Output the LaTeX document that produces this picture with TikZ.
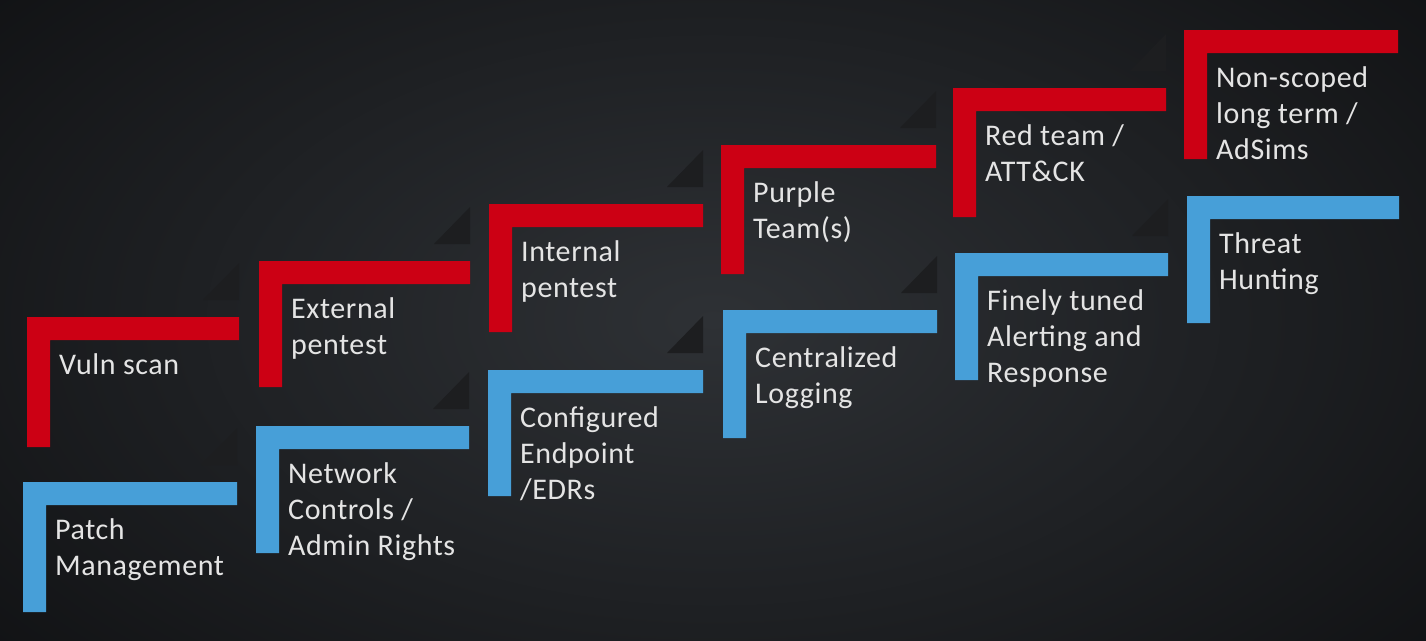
\documentclass[tikz,border=0pt]{standalone}
\usepackage{fontspec}
\setmainfont[LetterSpace=2]{Carlito}
\definecolor{stepred}{HTML}{CC0014}
\definecolor{stepblue}{HTML}{479FD8}
\definecolor{steptext}{HTML}{E4E4E4}
\definecolor{bgin}{HTML}{2E3135}
\definecolor{bgout}{HTML}{0F1012}
\definecolor{shadowc}{HTML}{1D1E20}
\tikzset{
  steplabel/.style={anchor=north west, inner sep=0pt, align=left, text=steptext,
    font=\fontsize{30}{36}\selectfont},
  stepshadow/.style={fill=shadowc},
}
% #1 name, #2 colour, #3 left, #4 top, #5 right, #6 bottom, #7 text
\newcommand\stairbox[7]{%
  \fill[#2] (#3,#4) -- (#5,#4) -- (#5,#4+23) -- (#3+23,#4+23) -- (#3+23,#6) -- (#3,#6) -- cycle;
  \node[steplabel] (#1) at (#3+32,#4+32) {\strut#7};
}
\newcommand\stairshadow[3]{% name, right, top
  \fill[stepshadow] (#2-36,#3-17) -- (#2,#3-17) -- (#2,#3-54) -- cycle;
  \coordinate (#1) at (#2,#3-17);
}
\begin{document}
\begin{tikzpicture}[x=1pt,y=-1pt]
\useasboundingbox (0,0) rectangle (1426,640);
\shade[inner color=bgin, outer color=bgout] (-300,-250) rectangle (1726,890);
\stairshadow{s1}{239}{317}
\stairshadow{s2}{470}{261}
\stairshadow{s3}{703}{204}
\stairshadow{s4}{936}{145}
\stairshadow{s5}{1166}{88}
\stairshadow{t1}{237}{482}
\stairshadow{t2}{469}{426}
\stairshadow{t3}{703}{370}
\stairshadow{t4}{937}{310}
\stairshadow{t5}{1168}{253}
% red row
\stairbox{r1}{stepred}{27}{317}{239}{447}{Vuln scan}
\stairbox{r2}{stepred}{259}{261}{470}{387}{External\\pentest}
\stairbox{r3}{stepred}{489}{204}{703}{332}{Internal\\pentest}
\stairbox{r4}{stepred}{721}{145}{936}{274}{Purple\\Team(s)}
\stairbox{r5}{stepred}{953}{88}{1166}{217}{Red team /\\ATT\&CK}
\stairbox{r6}{stepred}{1184}{30}{1398}{159}{Non-scoped\\long term /\\AdSims}
% blue row
\stairbox{b1}{stepblue}{23}{482}{237}{612}{Patch\\Management}
\stairbox{b2}{stepblue}{256}{426}{469}{553}{Network\\Controls /\\Admin Rights}
\stairbox{b3}{stepblue}{488}{370}{703}{496}{Configured\\Endpoint\\/EDRs}
\stairbox{b4}{stepblue}{723}{310}{937}{438}{Centralized\\Logging}
\stairbox{b5}{stepblue}{955}{253}{1168}{380}{Finely tuned\\Alerting and\\Response}
\stairbox{b6}{stepblue}{1187}{196}{1399}{323}{Threat\\Hunting}
\end{tikzpicture}
\end{document}
